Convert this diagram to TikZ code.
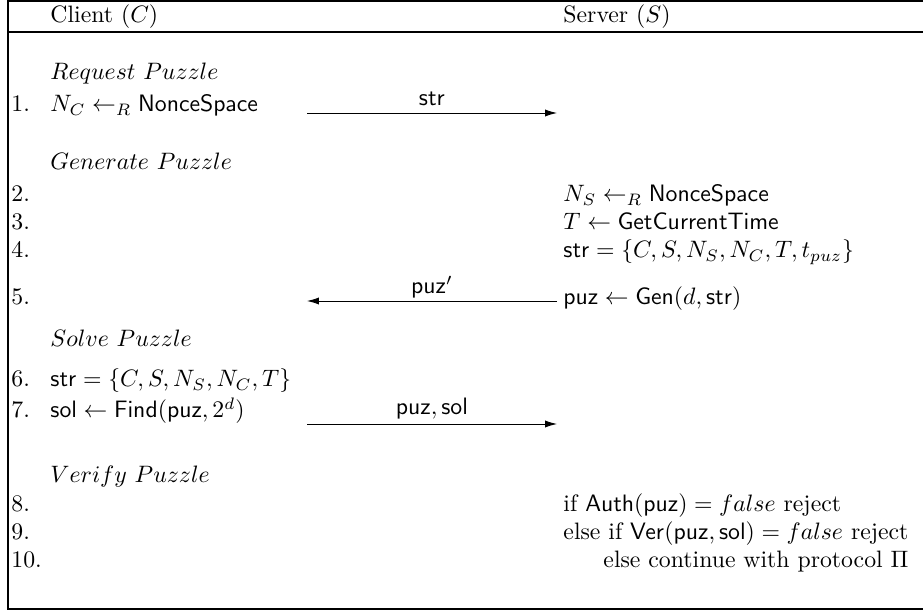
\documentclass[tikz,border=0pt]{standalone}
\usepackage{amsmath,amssymb}
\usepackage{tikz}
\usetikzlibrary{arrows.meta,positioning}

\begin{document}
\begin{tikzpicture}[
  x=0.421pt, y=-0.421pt,
  txt/.style={anchor=base west, inner sep=0pt},
  lbl/.style={anchor=base, inner sep=0pt},
  msg/.style={-{Latex[length=5pt,width=3pt]}, line width=0.4pt},
  frame/.style={line width=0.5pt}
]
\useasboundingbox (0,0) rectangle (923,612);

% frame of the protocol
\draw[frame] (923,1) -- (8,1) -- (8,609) -- (923,609);
\draw[frame] (8,32) -- (923,32);

% header
\node[txt] (hc) at (50,23) {Client $(C)$};
\node[txt] (hs) at (563,23) {Server $(S)$};

% phase titles
\node[txt] (p1) at (50,80)  {$Request\ Puzzle$};
\node[txt] (p2) at (50,170) {$Generate\ Puzzle$};
\node[txt] (p3) at (50,347) {$Solve\ Puzzle$};
\node[txt] (p4) at (50,483) {$Verify\ Puzzle$};

% step numbers
\foreach \n/\y in {1/112,2/202,3/230,4/258,5/305,6/387,7/418,8/512,9/540,10/568}
  \node[txt] (n\n) at (11,\y) {\n.};

% client side
\node[txt] (c1) at (50,112) {$N_C \leftarrow_R \mathsf{NonceSpace}$};
\node[txt] (c6) at (50,387) {$\mathsf{str} = \{C,S,N_S,N_C,T\}$};
\node[txt] (c7) at (50,418) {$\mathsf{sol} \leftarrow \mathsf{Find}(\mathsf{puz},2^d)$};

% server side
\node[txt] (s2) at (563,202) {$N_S \leftarrow_R \mathsf{NonceSpace}$};
\node[txt] (s3) at (563,230) {$T \leftarrow \mathsf{GetCurrentTime}$};
\node[txt] (s4) at (563,258) {$\mathsf{str} = \{C,S,N_S,N_C,T,t_{puz}\}$};
\node[txt] (s5) at (563,305) {$\mathsf{puz} \leftarrow \mathsf{Gen}(d,\mathsf{str})$};
\node[txt] (s8) at (563,512) {if $\mathsf{Auth}(\mathsf{puz}) = false$ reject};
\node[txt] (s9) at (563,540) {else if $\mathsf{Ver}(\mathsf{puz},\mathsf{sol}) = false$ reject};
\node[txt] (s10) at (603,568) {else continue with protocol $\Pi$};

% messages
\coordinate (m1a) at (307,113);
\coordinate (m1b) at (557,113);
\coordinate (m2a) at (557,301);
\coordinate (m2b) at (307,301);
\coordinate (m3a) at (307,424);
\coordinate (m3b) at (557,424);
\draw[msg] (m1a) -- (m1b) node[lbl, midway, yshift=3pt] {$\mathsf{str}$};
\draw[msg] (m2a) -- (m2b) node[lbl, midway, yshift=3pt] {$\mathsf{puz}'$};
\draw[msg] (m3a) -- (m3b) node[lbl, midway, yshift=4pt] {$\mathsf{puz},\mathsf{sol}$};
\end{tikzpicture}
\end{document}
